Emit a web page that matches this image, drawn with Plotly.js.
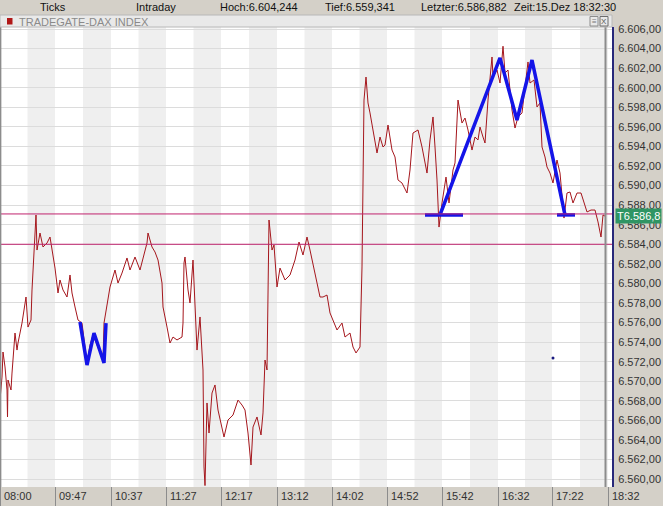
<!DOCTYPE html>
<html><head><meta charset="utf-8">
<script src="https://cdn.plot.ly/plotly-3.0.1.min.js"></script>
<style>html,body{margin:0;padding:0;background:#d4d0c8;}#chart{width:663px;height:506px;}</style>
</head><body><div id="chart"></div>
<script>
// tick-count positions (x) and DAX prices (y)
const xIdx = [0,2,3,5,7,7.5,8,11,12,13,15,17,18,22,23,26,28,31,32,33,36,37,40,43,47,50,52,55,58,60,63,67,70,72,75,78,82,84,87,90,93,97,100,103,104,107,110,115,118,122,127,130,135,140,143,147,148,152,155,158,162,163,167,170,173,177,182,183,184,185,188,190,193,195,197,200,202,203,204,205,207,209,212,215,218,222,224,228,233,238,242,245,248,251,253,257,261,263,265,267,269,272,274,277,280,285,290,295,299,303,307,310,315,320,323,327,330,333,337,342,345,350,353,356,360,362,363,364,366,368,370,373,377,380,383,385,388,392,395,398,402,407,410,413,418,422,427,430,433,435,437,439,442,446,449,453,455,458,462,465,468,472,475,478,480,483,485,488,492,493,497,500,503,505,508,512,513,515,518,522,525,528,530,534,537,540,542,545,547,550,553,557,560,562,564,567,570,573,577,581,583,587,591,595,598,601,603,605];
const price = [6568.08,6570.43,6572.99,6571.46,6569.11,6566.35,6570.13,6569.11,6570.84,6572.48,6574.93,6573.19,6573.91,6575.95,6576.57,6578.61,6575.54,6576.26,6579.33,6581.68,6586.99,6583.41,6585.15,6583.72,6584.13,6584.74,6583.41,6581.57,6579.02,6580.35,6579.33,6578.61,6580.86,6579.02,6577.59,6576.26,6575.95,6574.52,6571.87,6573.70,6574.73,6573.70,6572.89,6572.17,6575.95,6577.59,6579.63,6581.37,6580.04,6581.06,6582.60,6581.37,6582.70,6581.37,6582.60,6584.13,6585.15,6583.72,6583.21,6582.39,6580.04,6577.59,6575.54,6573.91,6574.52,6574.22,6574.52,6575.95,6582.09,6582.70,6579.33,6578.00,6582.39,6577.08,6573.19,6576.57,6573.19,6571.15,6561.24,6559.34,6567.78,6564.71,6568.80,6569.62,6567.06,6565.32,6564.30,6566.04,6566.55,6568.08,6567.57,6567.06,6564.71,6561.44,6565.32,6566.35,6564.51,6566.76,6572.17,6571.15,6586.48,6583.41,6583.92,6579.63,6581.57,6580.35,6580.86,6582.39,6584.23,6582.90,6584.74,6583.41,6581.06,6578.61,6578.61,6578.81,6576.98,6576.26,6575.24,6575.95,6574.52,6574.93,6573.50,6572.89,6573.50,6581.68,6593.94,6598.74,6601.09,6598.44,6597.42,6595.68,6593.33,6594.96,6593.94,6594.14,6596.19,6593.63,6592.92,6590.57,6590.26,6589.24,6591.59,6595.37,6595.68,6593.94,6591.28,6594.66,6597.01,6593.94,6590.57,6585.76,6588.22,6590.87,6588.22,6591.59,6592.31,6598.74,6596.39,6596.90,6595.68,6593.63,6594.96,6594.66,6595.98,6594.96,6594.35,6598.74,6603.14,6601.09,6601.81,6600.48,6604.24,6601.50,6601.81,6597.72,6597.01,6595.88,6597.01,6597.42,6600.07,6602.63,6600.48,6600.79,6598.03,6598.44,6593.94,6592.92,6591.90,6591.28,6590.26,6592.61,6591.28,6588.52,6586.68,6589.24,6589.34,6588.22,6589.24,6589.24,6588.52,6587.30,6587.50,6587.50,6586.28,6584.74,6586.99,6586.88];

// drawn pattern lines (W and M) and marker
const wX = [80,87,94,104,106];
const wY = [6576.06,6571.66,6574.93,6571.87,6575.95];
const mX = [440,500,517,532,565];
const mY = [6587.0,6603.04,6596.70,6602.83,6587.0];
const base1X = [425,463], base1Y = [6587.0,6587.0];
const base2X = [557,575], base2Y = [6587.0,6587.0];
const dotX = [553], dotY = [6572.38];

// horizontal levels
const levels = [6587.1, 6584.0];

// axis ticks
const tickPos = [0,55,111,166,221,277,332,387,442,498,552,608];
const tickLabels = ['08:00','09:47','10:37','11:27','12:17','13:12','14:02','14:52','15:42','16:32','17:22','18:32'];
const yTickVals = [6560,6562,6564,6566,6568,6570,6572,6574,6576,6578,6580,6582,6584,6586,6588,6590,6592,6594,6596,6598,6600,6602,6604,6606];
const yTickText = yTickVals.map(v => '6.' + String(v).slice(1) + ',00');

const header = [
  {t:'Ticks', x:38}, {t:'Intraday', x:134}, {t:'Hoch:6.604,244', x:218},
  {t:'Tief:6.559,341', x:323}, {t:'Letzter:6.586,882', x:419}, {t:'Zeit:15.Dez 18:32:30', x:512}
];
const lastLabel = 'T6.586,8', lastPrice = 6586.88;

const W = 663, H = 506, L = 0, R = 51, T = 27, B = 19;
const pw = W - L - R, ph = H - T - B;
const py = y => (H - B - y) / ph;   // pixel y -> paper y
const px = x => (x - L) / pw;

const FONT = 'Liberation Sans, Arial, sans-serif';
const shapes = [];
// alternating bands
for (let i = 0; i < tickPos.length - 1; i++) {
  const mid = (tickPos[i] + tickPos[i+1]) / 2;
  shapes.push({type:'rect', layer:'below', xref:'x', yref:'paper', x0:mid, x1:tickPos[i+1], y0:0, y1:1, fillcolor:'#efefef', line:{width:0}});
}
// level lines
levels.forEach(v => shapes.push({type:'line', xref:'paper', yref:'y', x0:0, x1:1, y0:v, y1:v, line:{color:'#c0236e', width:1}}));
// current time marker
shapes.push({type:'line', xref:'x', yref:'paper', x0:605.5, x1:605.5, y0:0, y1:1, line:{color:'#8c8c8c', width:2}});
// left border
shapes.push({type:'line', xref:'paper', yref:'paper', x0:0.001, x1:0.001, y0:0, y1:1, line:{color:'#8c8c8c', width:1.5}});
// title bar
shapes.push({type:'rect', xref:'paper', yref:'paper', x0:0, x1:px(612), y0:py(27), y1:py(15), fillcolor:'#e9e9e9', line:{color:'#b8b8b8', width:1}});
shapes.push({type:'rect', xref:'paper', yref:'paper', x0:px(7), x1:px(12.5), y0:py(24.5), y1:py(18), fillcolor:'#b01818', line:{width:0}});
// icons
shapes.push({type:'rect', xref:'paper', yref:'paper', x0:px(590), x1:px(598), y0:py(26), y1:py(16.5), fillcolor:'#e9e9e9', line:{color:'#8c8c8c', width:1}});
shapes.push({type:'rect', xref:'paper', yref:'paper', x0:px(600), x1:px(608), y0:py(26), y1:py(16.5), fillcolor:'#e9e9e9', line:{color:'#6c6c6c', width:1}});
// bottom strip dividers
tickPos.forEach(p => shapes.push({type:'line', xref:'x', yref:'paper', x0:p+0.5, x1:p+0.5, y0:py(506), y1:py(487), line:{color:'#8c8c8c', width:1}}));

const annotations = [];
tickPos.forEach((p, i) => annotations.push({xref:'x', yref:'paper', x:p + 2, y:py(496), xanchor:'left', yanchor:'middle', showarrow:false, text:tickLabels[i], font:{family:FONT, size:11, color:'#333'}}));
header.forEach(h => annotations.push({xref:'paper', yref:'paper', x:px(h.x), y:py(7.5), xanchor:'left', yanchor:'middle', showarrow:false, text:h.t, font:{family:FONT, size:11, color:'#111'}}));
annotations.push({xref:'paper', yref:'paper', x:px(17), y:py(21.5), xanchor:'left', yanchor:'middle', showarrow:false, text:'TRADEGATE-DAX INDEX', font:{family:FONT, size:11, color:'#8a8a8a'}});
annotations.push({xref:'paper', yref:'paper', x:px(594), y:py(21.3), xanchor:'center', yanchor:'middle', showarrow:false, text:'≡', font:{family:FONT, size:8, color:'#777'}});
annotations.push({xref:'paper', yref:'paper', x:px(604), y:py(21.3), xanchor:'center', yanchor:'middle', showarrow:false, text:'X', font:{family:FONT, size:8, color:'#555'}});
annotations.push({xref:'paper', yref:'y', x:px(615), y:lastPrice, xanchor:'left', yanchor:'middle', showarrow:false, text:lastLabel, bgcolor:'#2f9564', borderpad:1, font:{family:FONT, size:11, color:'#ffffff'}});

const blue = '#1414e8';
const traces = [
  {x:xIdx, y:price, type:'scatter', mode:'lines', line:{color:'#a5161c', width:1}, hoverinfo:'skip'},
  {x:wX, y:wY, type:'scatter', mode:'lines', line:{color:blue, width:3.5}, hoverinfo:'skip'},
  {x:mX, y:mY, type:'scatter', mode:'lines', line:{color:blue, width:3.5}, hoverinfo:'skip'},
  {x:base1X, y:base1Y, type:'scatter', mode:'lines', line:{color:blue, width:3.5}, hoverinfo:'skip'},
  {x:base2X, y:base2Y, type:'scatter', mode:'lines', line:{color:blue, width:3.5}, hoverinfo:'skip'},
  {x:dotX, y:dotY, type:'scatter', mode:'markers', marker:{color:'#1a1a80', size:3}, hoverinfo:'skip'}
];

const layout = {
  width:W, height:H, margin:{l:L, r:R, t:T, b:B, pad:0},
  paper_bgcolor:'#d4d0c8', plot_bgcolor:'#ffffff', showlegend:false,
  xaxis:{range:[0, pw], showgrid:false, zeroline:false, showticklabels:false, ticks:'', showline:false, fixedrange:true},
  yaxis:{range:[6606 - (ph - 2) / 9.785, 6606 + 2/9.785],
         side:'right', tickvals:yTickVals, ticktext:yTickText, showgrid:true, gridcolor:'#dcdcdc', gridwidth:1,
         zeroline:false, showline:true, linecolor:'#28287a', linewidth:2, ticks:'', ticklabelstandoff:2,
         tickfont:{family:FONT, size:11, color:'#333'}, fixedrange:true},
  shapes:shapes, annotations:annotations, font:{family:FONT}
};
Plotly.newPlot('chart', traces, layout, {staticPlot:true, displayModeBar:false});
</script></body></html>
